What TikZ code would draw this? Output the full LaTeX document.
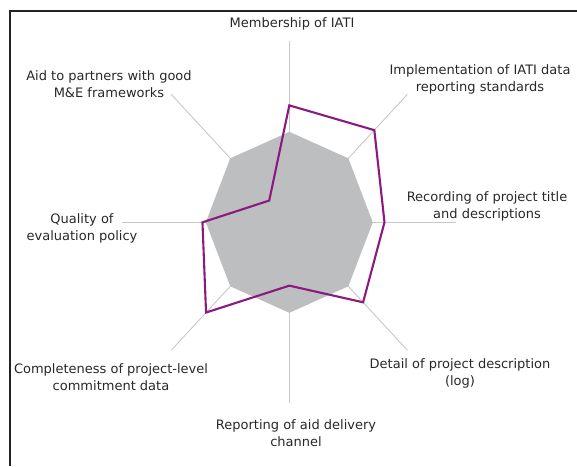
\documentclass[tikz,border=0pt]{standalone}
\usepackage{fontspec}
\setmainfont{DejaVu Sans}
\definecolor{axisgray}{RGB}{200,200,200}
\definecolor{benchgray}{RGB}{189,190,192}
\definecolor{scorepurple}{RGB}{138,26,128}
\definecolor{labeltext}{RGB}{40,40,40}
\definecolor{framecol}{RGB}{35,35,35}
\begin{document}
\begin{tikzpicture}[x=1pt,y=-1pt,
  axis/.style={draw=axisgray, line width=0.9pt},
  lbl/.style={font=\fontsize{13}{17}\selectfont, text=labeltext, align=center, inner sep=0pt},
  score/.style={draw=scorepurple, line width=2.1pt, line join=miter},
  bench/.style={fill=benchgray},
  frameline/.style={draw=framecol, line width=1.2pt}]
\useasboundingbox (0,0) rectangle (577,466);
\coordinate (c) at (289.3,222.3);
\foreach \k/\p in {0/0.646,1/0.72,2/0.57,3/0.625,4/0.35,5/0.705,6/0.52,7/0.17} {
  \coordinate (a\k) at ([shift={({167*sin(45*\k)},{-181*cos(45*\k)})}]c);
  \coordinate (g\k) at ([shift={({0.5*167*sin(45*\k)},{-0.5*181*cos(45*\k)})}]c);
  \coordinate (p\k) at ([shift={({\p*167*sin(45*\k)},{-\p*181*cos(45*\k)})}]c);
}
% frame
\draw[frameline] (10,466) -- (10,11) -- (577,11);
% axes
\foreach \k in {0,...,7} { \draw[axis] (c) -- (a\k); }
% benchmark octagon
\fill[bench] (g0) -- (g1) -- (g2) -- (g3) -- (g4) -- (g5) -- (g6) -- (g7) -- cycle;
% score polygon
\draw[score] (p0) -- (p1) -- (p2) -- (p3) -- (p4) -- (p5) -- (p6) -- (p7) -- cycle;
% labels
\node[lbl, anchor=base] (l0) at (292,27.3) {Membership of IATI};
\node[lbl] (l1) at (480,79.6) {Implementation of IATI data\\reporting standards};
\node[lbl] (l2) at (487,206.9) {Recording of project title\\and descriptions};
\node[lbl] (l3) at (460,373.3) {Detail of project description\\(log)};
\node[lbl] (l4) at (296,433.4) {Reporting of aid delivery\\channel};
\node[lbl] (l5) at (111,377) {Completeness of project-level\\commitment data};
\node[lbl] (l6) at (82,228.8) {Quality of\\evaluation policy};
\node[lbl] (l7) at (109,83.7) {Aid to partners with good\\M\&E frameworks};
\end{tikzpicture}
\end{document}
